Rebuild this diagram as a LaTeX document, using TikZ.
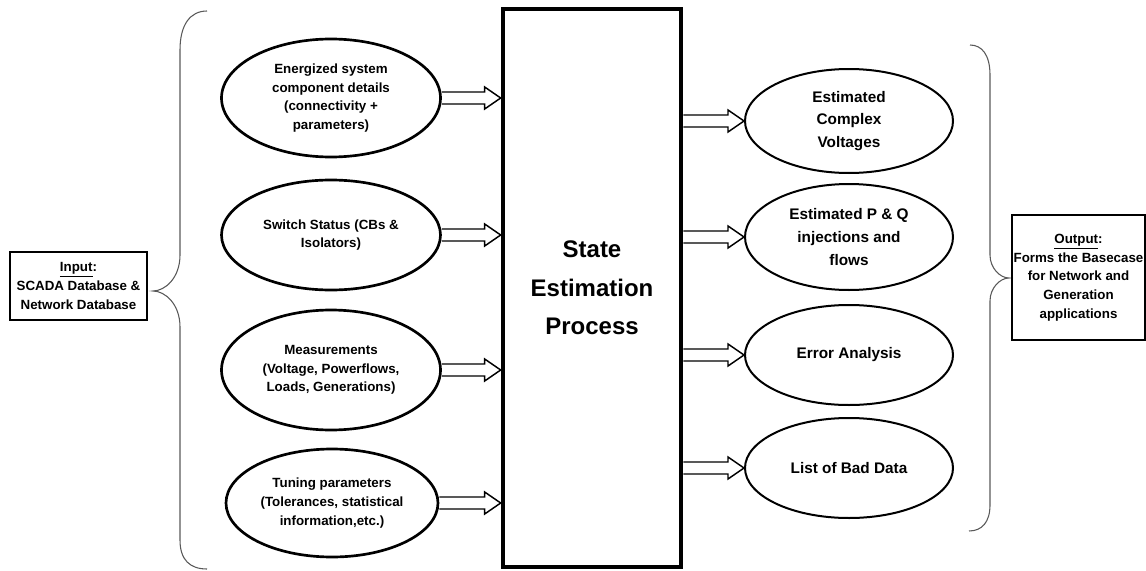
\documentclass[tikz,border=0pt]{standalone}
\usepackage{fontspec}
\setmainfont{Liberation Sans}
\usetikzlibrary{positioning,calc,shapes.geometric}

\tikzset{
  sidebox/.style={draw,line width=1.5pt,align=center,inner sep=1pt,font=\bfseries\fontsize{10}{14}\selectfont},
  inbubble/.style={ellipse,draw,line width=2pt,inner sep=0pt,align=center,minimum width=219*0.75pt,font=\bfseries\fontsize{10}{14}\selectfont},
  outbubble/.style={ellipse,draw,line width=1.5pt,inner sep=0pt,align=center,minimum width=208*0.75pt,font=\bfseries\fontsize{11.5}{17}\selectfont},
  curly/.style={draw=black!65,line width=0.8pt},
  feedline/.style={draw,line width=1.1pt,line join=miter}
}
% hollow block arrow between two points
\newcommand\feed[2]{%
  \draw[feedline] ($(#1)+(0,-6)$) -- ($(#2)+(-16,-6)$) -- ($(#2)+(-16,-11)$) -- (#2)
    -- ($(#2)+(-16,11)$) -- ($(#2)+(-16,6)$) -- ($(#1)+(0,6)$);}

\begin{document}
\begin{tikzpicture}[x=0.75pt,y=-0.75pt]
		\useasboundingbox (0,0) rectangle (1146,571);
	
		% input side
		\node[sidebox,minimum width=137*0.75pt,minimum height=68*0.75pt] (input) at (78.5,286)
			{\underline{Input}:\\SCADA Database \&\\Network Database};
		
		\draw[curly] (207,11) .. controls (190,11) and (180,25) .. (180,50) -- (180,255)
			.. controls (180,278) and (165,291) .. (153,291)
			.. controls (165,291) and (180,304) .. (180,327) -- (180,540)
			.. controls (180,560) and (190,569) .. (207,569);
		
		\node[inbubble,minimum height=118*0.75pt] (e1) at (331,98)
			{Energized system\\component details\\(connectivity +\\parameters)};
		\node[inbubble,minimum height=110*0.75pt] (e2) at (331,235)
			{Switch Status (CBs \&\\Isolators)};
		\node[inbubble,minimum height=120*0.75pt] (e3) at (331,370)
			{Measurements\\(Voltage, Powerflows,\\Loads, Generations)};
		\node[inbubble,minimum height=108*0.75pt,minimum width=212*0.75pt] (e4) at (332,503)
			{Tuning parameters\\(Tolerances, statistical\\information,etc.)};
		
		% process
		\node[draw,line width=3.5pt,minimum width=178*0.75pt,minimum height=558*0.75pt,align=center,
			font=\bfseries\fontsize{18}{29}\selectfont] (proc) at (592,288)
			{State\\Estimation\\Process};
		
		% outputs
		\node[outbubble,minimum height=104*0.75pt] (o1) at (849,121) {Estimated\\Complex\\Voltages};
		\node[outbubble,minimum height=106*0.75pt] (o2) at (849,237) {Estimated P \& Q\\injections and\\flows};
		\node[outbubble,minimum height=100*0.75pt] (o3) at (849,355) {Error Analysis};
		\node[outbubble,minimum height=100*0.75pt] (o4) at (849,468) {List of Bad Data};
		
		\draw[curly] (970,45) .. controls (982,45) and (990,55) .. (990,75) -- (990,255)
			.. controls (990,268) and (1000,278) .. (1009,278)
			.. controls (1000,278) and (990,288) .. (990,301) -- (990,505)
			.. controls (990,522) and (982,531) .. (969,531);
		
		\node[sidebox,minimum width=133*0.75pt,minimum height=125*0.75pt] (output) at (1078.5,277.5)
			{\underline{Output}:\\Forms the Basecase\\for Network and\\Generation\\applications};
		
		% arrows
		\foreach \i in {1,...,4}{
			\coordinate (a\i) at (e\i.east -| proc.west);
			\coordinate (b\i) at (o\i.west -| proc.east);
			\feed{e\i.east}{a\i}
			\feed{b\i}{o\i.west}
		}
	\end{tikzpicture}
\end{document}
